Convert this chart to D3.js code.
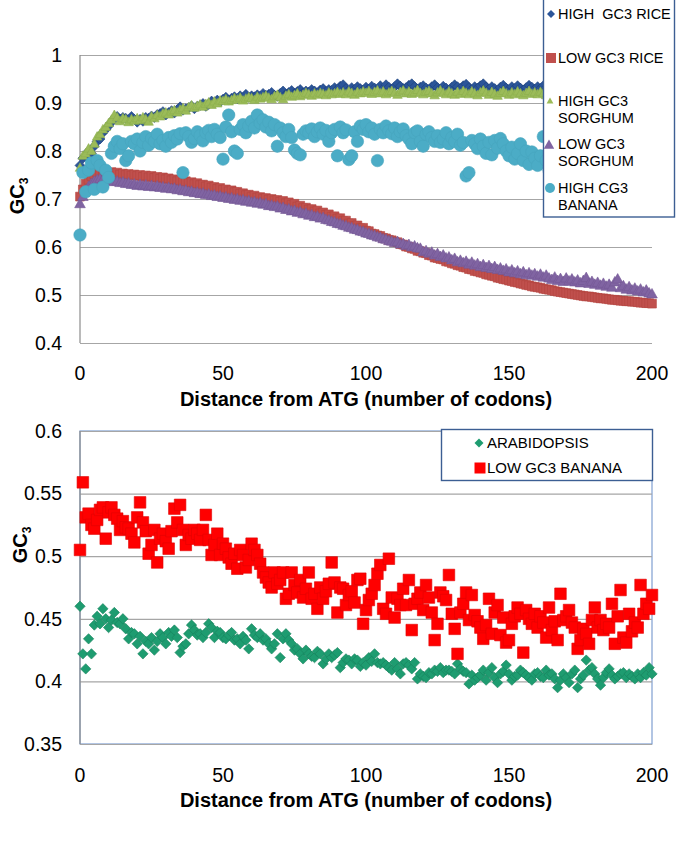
<!DOCTYPE html>
<html>
<head>
<meta charset="utf-8">
<script src="https://cdn.jsdelivr.net/npm/d3@7"></script>
<style>
body { margin: 0; background: #fff; }
text { font-family: Arial, "Liberation Sans", sans-serif; white-space: pre; }
</style>
</head>
<body>
<svg id="chart" width="685" height="843"></svg>
<script>
// x is the codon index 0..200, one value per codon
var xTicks = [0, 50, 100, 150, 200];
var topTicks = [0.4, 0.5, 0.6, 0.7, 0.8, 0.9, 1];
var bottomTicks = [0.35, 0.4, 0.45, 0.5, 0.55, 0.6];

var highRice = [
  0.770, 0.785, 0.790, 0.800, 0.795, 0.810, 0.820, 0.825, 0.838, 0.845,
  0.852, 0.860, 0.868, 0.872, 0.866, 0.870, 0.868, 0.865, 0.872, 0.866,
  0.860, 0.866, 0.862, 0.870, 0.868, 0.873, 0.870, 0.876, 0.878, 0.882,
  0.875, 0.880, 0.884, 0.879, 0.886, 0.892, 0.885, 0.888, 0.890, 0.894,
  0.888, 0.893, 0.895, 0.899, 0.893, 0.897, 0.904, 0.900, 0.906, 0.902,
  0.908, 0.912, 0.906, 0.910, 0.913, 0.909, 0.915, 0.911, 0.918, 0.912,
  0.915, 0.913, 0.917, 0.914, 0.920, 0.916, 0.918, 0.922, 0.916, 0.914,
  0.920, 0.925, 0.918, 0.922, 0.926, 0.920, 0.924, 0.928, 0.921, 0.925,
  0.923, 0.928, 0.925, 0.921, 0.927, 0.930, 0.924, 0.928, 0.926, 0.932,
  0.928, 0.935, 0.938, 0.930, 0.926, 0.932, 0.928, 0.934, 0.930, 0.927,
  0.933, 0.929, 0.935, 0.931, 0.928, 0.936, 0.930, 0.938, 0.933, 0.929,
  0.934, 0.940, 0.935, 0.930, 0.932, 0.937, 0.940, 0.934, 0.929, 0.933,
  0.936, 0.931, 0.928, 0.934, 0.938, 0.932, 0.929, 0.935, 0.931, 0.927,
  0.933, 0.938, 0.934, 0.930, 0.936, 0.939, 0.932, 0.928, 0.934, 0.931,
  0.936, 0.940, 0.933, 0.929, 0.934, 0.930, 0.926, 0.933, 0.937, 0.931,
  0.928, 0.934, 0.930, 0.936, 0.931, 0.927, 0.932, 0.937, 0.933, 0.929,
  0.934, 0.930, 0.936, 0.932, 0.928, 0.933, 0.937, 0.931, 0.929, 0.934,
  0.930, 0.935, 0.931, 0.928, 0.933, 0.938, 0.932, 0.929, 0.934, 0.930,
  0.935, 0.931, 0.927, 0.933, 0.936, 0.930, 0.928, 0.934, 0.931, 0.929,
  0.933, 0.937, 0.930, 0.928, 0.934, 0.931, 0.929, 0.935, 0.930, 0.932,
  0.928
];

var lowRice = [
  0.705, 0.720, 0.732, 0.740, 0.748, 0.752, 0.755, 0.756, 0.755, 0.757,
  0.754, 0.756, 0.752, 0.755, 0.751, 0.753, 0.750, 0.752, 0.749, 0.751,
  0.748, 0.750, 0.746, 0.749, 0.745, 0.748, 0.744, 0.746, 0.742, 0.745,
  0.741, 0.743, 0.739, 0.741, 0.737, 0.739, 0.735, 0.737, 0.733, 0.735,
  0.731, 0.733, 0.729, 0.730, 0.726, 0.728, 0.724, 0.725, 0.721, 0.723,
  0.719, 0.720, 0.716, 0.718, 0.714, 0.715, 0.711, 0.712, 0.708, 0.709,
  0.705, 0.707, 0.703, 0.704, 0.701, 0.702, 0.699, 0.700, 0.697, 0.698,
  0.694, 0.696, 0.691, 0.693, 0.688, 0.690, 0.684, 0.686, 0.681, 0.682,
  0.678, 0.679, 0.674, 0.676, 0.670, 0.672, 0.667, 0.668, 0.663, 0.664,
  0.659, 0.660, 0.654, 0.655, 0.649, 0.650, 0.644, 0.645, 0.639, 0.640,
  0.634, 0.633, 0.628, 0.627, 0.624, 0.623, 0.619, 0.618, 0.615, 0.614,
  0.611, 0.610, 0.606, 0.605, 0.601, 0.600, 0.597, 0.596, 0.592, 0.591,
  0.588, 0.587, 0.583, 0.582, 0.578, 0.577, 0.575, 0.574, 0.570, 0.569,
  0.566, 0.565, 0.562, 0.561, 0.558, 0.557, 0.554, 0.553, 0.550, 0.549,
  0.547, 0.546, 0.543, 0.542, 0.540, 0.539, 0.536, 0.535, 0.533, 0.532,
  0.530, 0.529, 0.527, 0.526, 0.524, 0.523, 0.521, 0.520, 0.518, 0.517,
  0.516, 0.515, 0.513, 0.512, 0.511, 0.510, 0.508, 0.507, 0.506, 0.505,
  0.504, 0.503, 0.502, 0.501, 0.500, 0.499, 0.498, 0.497, 0.497, 0.496,
  0.495, 0.494, 0.493, 0.493, 0.492, 0.491, 0.490, 0.490, 0.489, 0.488,
  0.488, 0.487, 0.487, 0.486, 0.486, 0.485, 0.484, 0.484, 0.483, 0.483,
  0.482
];

var highSorghum = [
  0.765, 0.790, 0.795, 0.805, 0.800, 0.815, 0.830, 0.835, 0.845, 0.850,
  0.858, 0.865, 0.875, 0.870, 0.862, 0.868, 0.866, 0.860, 0.866, 0.863,
  0.868, 0.864, 0.870, 0.866, 0.861, 0.872, 0.868, 0.875, 0.872, 0.878,
  0.880, 0.876, 0.882, 0.885, 0.880, 0.886, 0.889, 0.884, 0.891, 0.895,
  0.890, 0.894, 0.897, 0.892, 0.898, 0.901, 0.896, 0.903, 0.899, 0.905,
  0.904, 0.908, 0.903, 0.906, 0.910, 0.907, 0.911, 0.905, 0.909, 0.912,
  0.910, 0.906, 0.913, 0.909, 0.912, 0.915, 0.911, 0.908, 0.914, 0.917,
  0.912, 0.908, 0.915, 0.918, 0.913, 0.916, 0.920, 0.914, 0.917, 0.921,
  0.918, 0.915, 0.920, 0.917, 0.921, 0.919, 0.916, 0.922, 0.918, 0.920,
  0.923, 0.919, 0.922, 0.918, 0.924, 0.921, 0.917, 0.923, 0.920, 0.924,
  0.921, 0.925, 0.919, 0.923, 0.926, 0.920, 0.924, 0.918, 0.922, 0.925,
  0.921, 0.917, 0.923, 0.926, 0.920, 0.924, 0.919, 0.922, 0.927, 0.921,
  0.918, 0.923, 0.925, 0.920, 0.916, 0.922, 0.926, 0.921, 0.918, 0.924,
  0.920, 0.917, 0.923, 0.919, 0.925, 0.921, 0.918, 0.924, 0.920, 0.916,
  0.922, 0.926, 0.921, 0.917, 0.923, 0.919, 0.915, 0.921, 0.925, 0.920,
  0.917, 0.922, 0.918, 0.924, 0.920, 0.916, 0.921, 0.925, 0.919, 0.922,
  0.918, 0.923, 0.920, 0.916, 0.922, 0.926, 0.920, 0.917, 0.923, 0.919,
  0.921, 0.925, 0.919, 0.916, 0.922, 0.918, 0.924, 0.920, 0.917, 0.923,
  0.919, 0.922, 0.926, 0.920, 0.917, 0.923, 0.919, 0.921, 0.925, 0.918,
  0.922, 0.919, 0.924, 0.920, 0.917, 0.923, 0.921, 0.918, 0.924, 0.920,
  0.922
];

var lowSorghum = [
  0.690, 0.705, 0.718, 0.726, 0.732, 0.737, 0.740, 0.742, 0.741, 0.740,
  0.738, 0.739, 0.736, 0.737, 0.734, 0.735, 0.732, 0.733, 0.730, 0.731,
  0.728, 0.730, 0.727, 0.729, 0.726, 0.728, 0.725, 0.727, 0.724, 0.725,
  0.722, 0.724, 0.721, 0.722, 0.719, 0.720, 0.717, 0.718, 0.715, 0.716,
  0.713, 0.714, 0.711, 0.712, 0.709, 0.710, 0.707, 0.708, 0.705, 0.706,
  0.703, 0.704, 0.701, 0.702, 0.699, 0.700, 0.697, 0.698, 0.695, 0.696,
  0.693, 0.694, 0.691, 0.692, 0.689, 0.690, 0.686, 0.687, 0.684, 0.685,
  0.681, 0.682, 0.678, 0.679, 0.675, 0.676, 0.672, 0.673, 0.669, 0.670,
  0.666, 0.667, 0.663, 0.664, 0.660, 0.661, 0.657, 0.656, 0.653, 0.652,
  0.649, 0.648, 0.645, 0.644, 0.641, 0.640, 0.637, 0.636, 0.633, 0.632,
  0.629, 0.628, 0.625, 0.624, 0.621, 0.620, 0.617, 0.616, 0.613, 0.612,
  0.609, 0.611, 0.606, 0.607, 0.603, 0.605, 0.600, 0.602, 0.598, 0.597,
  0.590, 0.592, 0.587, 0.589, 0.583, 0.586, 0.580, 0.583, 0.577, 0.579,
  0.573, 0.576, 0.569, 0.572, 0.567, 0.570, 0.564, 0.568, 0.562, 0.565,
  0.559, 0.563, 0.557, 0.561, 0.555, 0.559, 0.553, 0.556, 0.551, 0.554,
  0.548, 0.552, 0.546, 0.550, 0.544, 0.548, 0.542, 0.546, 0.541, 0.544,
  0.539, 0.543, 0.537, 0.541, 0.535, 0.532, 0.537, 0.530, 0.534, 0.528,
  0.535, 0.529, 0.533, 0.527, 0.531, 0.525, 0.530, 0.536, 0.524, 0.528,
  0.522, 0.526, 0.520, 0.524, 0.518, 0.522, 0.516, 0.527, 0.533, 0.515,
  0.519, 0.512, 0.517, 0.510, 0.514, 0.508, 0.512, 0.506, 0.510, 0.504,
  0.502
];

var highBanana = [
  0.625, 0.755, 0.715, 0.760, 0.775, 0.720, 0.780, 0.770, 0.725, 0.760,
  0.745, 0.795, 0.810, 0.820, 0.805, 0.815, 0.780, 0.790, 0.820, 0.815,
  0.825, 0.800, 0.818, 0.830, 0.812, 0.826, 0.820, 0.835, 0.815, 0.822,
  0.810, 0.828, 0.818, 0.832, 0.825, 0.836, 0.755, 0.838, 0.830, 0.818,
  0.826, 0.840, 0.832, 0.821, 0.838, 0.843, 0.830, 0.845, 0.835, 0.828,
  0.783, 0.850, 0.875, 0.840, 0.800, 0.795, 0.845, 0.855, 0.838, 0.852,
  0.862, 0.848, 0.875, 0.858, 0.865, 0.850, 0.860, 0.842, 0.855, 0.810,
  0.848, 0.838, 0.830, 0.845, 0.828, 0.802, 0.795, 0.792, 0.835, 0.842,
  0.838, 0.846, 0.830, 0.840, 0.848, 0.835, 0.843, 0.820, 0.838, 0.845,
  0.790, 0.850, 0.838, 0.844, 0.782, 0.790, 0.840, 0.820, 0.852, 0.845,
  0.855, 0.840, 0.848, 0.835, 0.780, 0.845, 0.838, 0.852, 0.842, 0.836,
  0.848, 0.830, 0.840, 0.846, 0.832, 0.825, 0.815, 0.838, 0.842, 0.820,
  0.810, 0.835, 0.840, 0.828, 0.820, 0.832, 0.818, 0.825, 0.838, 0.815,
  0.828, 0.820, 0.835, 0.812, 0.818, 0.748, 0.755, 0.822, 0.815, 0.805,
  0.825, 0.810, 0.795, 0.818, 0.792, 0.822, 0.806, 0.826, 0.815, 0.800,
  0.790, 0.808, 0.783, 0.795, 0.815, 0.780, 0.800, 0.772, 0.798, 0.785,
  0.770, 0.790, 0.830, 0.780, 0.760, 0.795, 0.775, 0.805, 0.785, 0.770,
  0.790, 0.800, 0.775, 0.810, 0.785, 0.760, 0.795, 0.780, 0.805, 0.770,
  0.785, 0.800, 0.775, 0.790, 0.765, 0.795, 0.780, 0.805, 0.770, 0.785,
  0.760, 0.790, 0.775, 0.800, 0.770, 0.785, 0.765, 0.795, 0.780, 0.770,
  0.790
];

var arabidopsis = [
  0.460, 0.422, 0.410, 0.434, 0.422, 0.445, 0.452, 0.446, 0.458, 0.450,
  0.443, 0.449, 0.455, 0.447, 0.446, 0.450, 0.442, 0.434, 0.439, 0.438,
  0.430, 0.436, 0.422, 0.432, 0.430, 0.435, 0.425, 0.432, 0.438, 0.435,
  0.430, 0.439, 0.436, 0.441, 0.435, 0.423, 0.428, 0.430, 0.438, 0.445,
  0.441, 0.437, 0.438, 0.435, 0.439, 0.446, 0.443, 0.435, 0.440, 0.439,
  0.435, 0.434, 0.437, 0.439, 0.433, 0.434, 0.430, 0.436, 0.433, 0.426,
  0.442, 0.437, 0.435, 0.438, 0.433, 0.434, 0.430, 0.426, 0.430, 0.438,
  0.419, 0.434, 0.438, 0.433, 0.430, 0.425, 0.426, 0.422, 0.418, 0.425,
  0.422, 0.420, 0.419, 0.424, 0.422, 0.414, 0.418, 0.422, 0.419, 0.421,
  0.423, 0.411, 0.415, 0.418, 0.417, 0.414, 0.418, 0.417, 0.412, 0.415,
  0.413, 0.419, 0.416, 0.422, 0.415, 0.414, 0.415, 0.413, 0.411, 0.409,
  0.415, 0.410, 0.406, 0.414, 0.415, 0.413, 0.410, 0.415, 0.402, 0.406,
  0.404, 0.403, 0.407, 0.406, 0.409, 0.408, 0.411, 0.407, 0.409, 0.409,
  0.408, 0.406, 0.414, 0.410, 0.408, 0.407, 0.398, 0.405, 0.401, 0.403,
  0.405, 0.409, 0.401, 0.407, 0.411, 0.403, 0.399, 0.406, 0.408, 0.413,
  0.406, 0.401, 0.404, 0.405, 0.409, 0.407, 0.405, 0.403, 0.401, 0.406,
  0.407, 0.404, 0.403, 0.409, 0.405, 0.406, 0.402, 0.395, 0.401, 0.406,
  0.403, 0.399, 0.406, 0.409, 0.395, 0.402, 0.405, 0.417, 0.409, 0.411,
  0.406, 0.402, 0.397, 0.403, 0.407, 0.410, 0.405, 0.402, 0.404, 0.406,
  0.407, 0.403, 0.406, 0.404, 0.402, 0.406, 0.403, 0.407, 0.405, 0.411,
  0.406
];

var lowBanana = [
  0.505, 0.559, 0.531, 0.534, 0.525, 0.522, 0.529, 0.537, 0.539, 0.514,
  0.535, 0.539, 0.533, 0.530, 0.521, 0.528, 0.523, 0.522, 0.518, 0.511,
  0.531, 0.543, 0.527, 0.520, 0.502, 0.509, 0.521, 0.495, 0.514, 0.518,
  0.512, 0.506, 0.520, 0.538, 0.527, 0.541, 0.521, 0.509, 0.517, 0.514,
  0.521, 0.518, 0.513, 0.521, 0.533, 0.513, 0.501, 0.509, 0.518, 0.501,
  0.510, 0.506, 0.499, 0.494, 0.502, 0.490, 0.505, 0.501, 0.491, 0.497,
  0.510, 0.505, 0.501, 0.494, 0.487, 0.483, 0.479, 0.475, 0.487, 0.478,
  0.481, 0.487, 0.466, 0.470, 0.487, 0.477, 0.471, 0.481, 0.467, 0.474,
  0.487, 0.466, 0.470, 0.458, 0.475, 0.466, 0.472, 0.478, 0.495, 0.479,
  0.455, 0.475, 0.474, 0.461, 0.469, 0.472, 0.463, 0.481, 0.482, 0.446,
  0.457, 0.465, 0.470, 0.477, 0.486, 0.493, 0.458, 0.454, 0.498, 0.467,
  0.451, 0.466, 0.461, 0.474, 0.461, 0.481, 0.441, 0.462, 0.466, 0.471,
  0.457, 0.477, 0.467, 0.455, 0.433, 0.446, 0.471, 0.468, 0.465, 0.485,
  0.454, 0.442, 0.422, 0.455, 0.462, 0.471, 0.449, 0.469, 0.453, 0.448,
  0.443, 0.434, 0.445, 0.466, 0.438, 0.455, 0.461, 0.437, 0.451, 0.431,
  0.433, 0.446, 0.452, 0.459, 0.454, 0.423, 0.457, 0.450, 0.446, 0.454,
  0.443, 0.452, 0.447, 0.435, 0.459, 0.441, 0.448, 0.433, 0.470, 0.449,
  0.452, 0.457, 0.447, 0.443, 0.426, 0.433, 0.442, 0.438, 0.430, 0.449,
  0.459, 0.443, 0.449, 0.441, 0.446, 0.443, 0.462, 0.430, 0.452, 0.473,
  0.435, 0.431, 0.454, 0.440, 0.447, 0.443, 0.477, 0.454, 0.462, 0.458,
  0.469
];

var svg = d3.select("#chart");
var x = d3.scaleLinear().domain([0, 200]).range([80, 652]);
var yTop = d3.scaleLinear().domain([0.4, 1]).range([343, 55]);
var yBot = d3.scaleLinear().domain([0.35, 0.6]).range([744, 431]);

function shapePath(shape, r) {
  if (shape == "diamond") return "M0," + (-r) + "L" + r + ",0L0," + r + "L" + (-r) + ",0Z";
  if (shape == "square") return "M" + (-r) + "," + (-r) + "h" + 2 * r + "v" + 2 * r + "h" + (-2 * r) + "Z";
  if (shape == "triangle") return "M0," + (-r) + "L" + (r * 0.95) + "," + (r * 0.7) + "L" + (-r * 0.95) + "," + (r * 0.7) + "Z";
  return "M" + r + ",0A" + r + "," + r + " 0 1,1 " + (-r) + ",0A" + r + "," + r + " 0 1,1 " + r + ",0Z";
}

function drawAxes(y, ticks, xLabelY, xTitleY, yTitlePos) {
  var gy = svg.append("g").attr("transform", "translate(80,0)")
    .call(d3.axisLeft(y).tickValues(ticks).tickSize(-572).tickPadding(18).tickFormat(String));
  gy.attr("font-family", null).attr("font-size", null);
  gy.select(".domain").remove();
  gy.selectAll(".tick line").attr("stroke", "#a6a6a6").attr("stroke-width", 1.2);
  gy.selectAll(".tick text").attr("font-size", 19.5).attr("fill", "#000");

  svg.append("line")
    .attr("x1", 80).attr("x2", 80)
    .attr("y1", y.range()[1]).attr("y2", y.range()[0])
    .attr("stroke", "#8c8c8c").attr("stroke-width", 1.2);

  svg.append("g").selectAll("text").data(xTicks).enter().append("text")
    .attr("x", function (d) { return x(d); })
    .attr("y", xLabelY)
    .attr("text-anchor", "middle")
    .attr("font-size", 19.5)
    .text(String);

  svg.append("text")
    .attr("x", 366).attr("y", xTitleY)
    .attr("text-anchor", "middle")
    .attr("font-size", 20).attr("font-weight", "bold")
    .text("Distance from ATG (number of codons)");

  var t = svg.append("text")
    .attr("transform", "translate(" + yTitlePos[0] + "," + yTitlePos[1] + ") rotate(-90)")
    .attr("text-anchor", "middle")
    .attr("font-size", 20).attr("font-weight", "bold");
  t.append("tspan").text("GC");
  t.append("tspan").attr("font-size", 12).attr("dy", 4).text("3");
}

function drawSeries(y, s) {
  svg.append("g").selectAll("path").data(s.values).enter().append("path")
    .attr("transform", function (d, i) { return "translate(" + x(i) + "," + y(d) + ")"; })
    .attr("d", shapePath(s.shape, s.r))
    .attr("fill", s.fill)
    .attr("stroke", s.stroke)
    .attr("stroke-width", 0.6);
}

function drawLegend(box, items) {
  svg.append("rect")
    .attr("x", box[0]).attr("y", box[1]).attr("width", box[2]).attr("height", box[3])
    .attr("fill", "#fff").attr("stroke", "#3c5e93").attr("stroke-width", 1.4);
  items.forEach(function (it) {
    svg.append("path")
      .attr("transform", "translate(" + it.mx + "," + it.my + ")")
      .attr("d", shapePath(it.s.shape, it.mr))
      .attr("fill", it.s.fill);
    var t = svg.append("text").attr("font-size", it.fs);
    it.lines.forEach(function (l, k) {
      t.append("tspan").attr("x", it.tx).attr("y", it.ty + k * 17).text(l);
    });
  });
}

// top panel
var topSeries = [
  { name: "HIGH  GC3 RICE", values: highRice, shape: "diamond", r: 5, fill: "#2b5599", stroke: "#1d3f78" },
  { name: "LOW GC3 RICE", values: lowRice, shape: "square", r: 4.4, fill: "#c0504d", stroke: "#b3453f" },
  { name: "HIGH GC3 SORGHUM", values: highSorghum, shape: "triangle", r: 5, fill: "#9bbb59", stroke: "#8cae4b" },
  { name: "LOW GC3 SORGHUM", values: lowSorghum, shape: "triangle", r: 5.6, fill: "#8064a2", stroke: "#735896" },
  { name: "HIGH CG3 BANANA", values: highBanana, shape: "circle", r: 6.2, fill: "#4bacc6", stroke: "#46a4bd" }
];

drawAxes(yTop, topTicks, 380, 406, [24, 196]);
topSeries.forEach(function (s) { drawSeries(yTop, s); });

drawLegend([543.5, -2, 131, 219], [
  { s: topSeries[0], mx: 551, my: 14, mr: 4, tx: 558, ty: 19, fs: 14.5, lines: ["HIGH  GC3 RICE"] },
  { s: topSeries[1], mx: 551, my: 58, mr: 5, tx: 558, ty: 63, fs: 14.5, lines: ["LOW GC3 RICE"] },
  { s: topSeries[2], mx: 550, my: 101, mr: 3.6, tx: 558, ty: 106, fs: 14.5, lines: ["HIGH GC3", "SORGHUM"] },
  { s: topSeries[3], mx: 549, my: 145, mr: 5.5, tx: 558, ty: 149, fs: 14.5, lines: ["LOW GC3", "SORGHUM"] },
  { s: topSeries[4], mx: 550, my: 188, mr: 5, tx: 558, ty: 193, fs: 14.5, lines: ["HIGH CG3", "BANANA"] }
]);

// bottom panel
var bottomSeries = [
  { name: "ARABIDOPSIS", values: arabidopsis, shape: "diamond", r: 5.2, fill: "#1e9c70", stroke: "#17825c" },
  { name: "LOW GC3 BANANA", values: lowBanana, shape: "square", r: 5.8, fill: "#ff0000", stroke: "#e00000" }
];

svg.append("rect")
  .attr("x", 80).attr("y", 431).attr("width", 572).attr("height", 313)
  .attr("fill", "none").attr("stroke", "#7f9fd0").attr("stroke-width", 1.2);
drawAxes(yBot, bottomTicks, 782, 807, [27, 545]);
bottomSeries.forEach(function (s) { drawSeries(yBot, s); });

drawLegend([441.5, 429.5, 211, 51], [
  { s: bottomSeries[0], mx: 479, my: 443, mr: 4.5, tx: 487, ty: 448, fs: 15, lines: ["ARABIDOPSIS"] },
  { s: bottomSeries[1], mx: 480, my: 468, mr: 5.5, tx: 487, ty: 473, fs: 15, lines: ["LOW GC3 BANANA"] }
]);
</script>
</body>
</html>
